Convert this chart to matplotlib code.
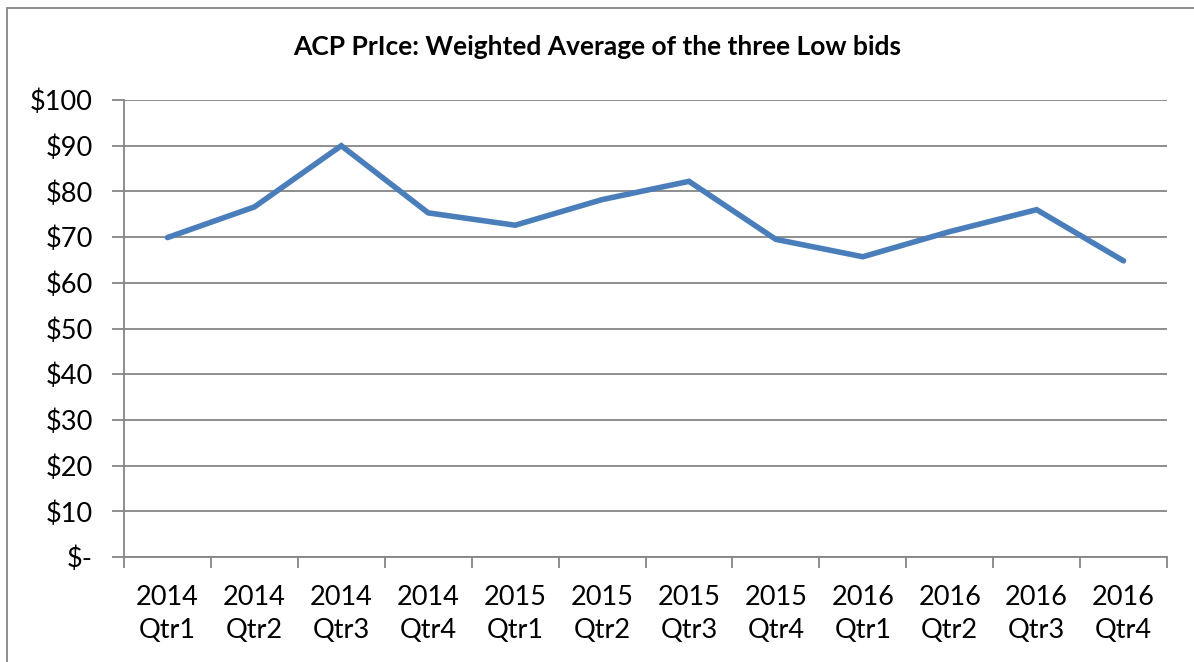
import matplotlib.pyplot as plt
from matplotlib.patches import Rectangle

plt.rcParams['font.family'] = ['Lato', 'DejaVu Sans']

years = ["2014", "2014", "2014", "2014", "2015", "2015", "2015", "2015",
         "2016", "2016", "2016", "2016"]
quarters = ["Qtr1", "Qtr2", "Qtr3", "Qtr4"] * 3
prices = [69.9, 76.6, 90.0, 75.3, 72.6, 78.2, 82.2, 69.5, 65.7, 71.2, 76.0, 64.8]
yticks = [0, 10, 20, 30, 40, 50, 60, 70, 80, 90, 100]

labels = [y + "\n" + q for y, q in zip(years, quarters)]
x = list(range(len(prices)))

fig = plt.figure(figsize=(11.94, 6.62), dpi=100)
ax = fig.add_axes([124 / 1194, 1 - 557 / 662, 1043 / 1194, 457 / 662])

grid_col = "#868686"
ax.plot(x, prices, color="#4A7EBB", linewidth=4, solid_capstyle="round",
        solid_joinstyle="miter", zorder=3)

ax.set_xlim(-0.5, len(prices) - 0.5)
ax.set_ylim(0, 100)
ax.set_yticks(yticks)
ax.set_yticklabels(["$-" if v == 0 else "$%d" % v for v in yticks])
ax.yaxis.grid(True, color=grid_col, linewidth=1.3)

# category ticks sit between labels, label text centred under each point
ax.set_xticks([i - 0.5 for i in range(len(prices) + 1)])
ax.set_xticklabels([])
ax.set_xticks(x, minor=True)
ax.set_xticklabels(labels, minor=True, linespacing=1.42)
ax.tick_params(axis="x", which="minor", length=0, pad=20, labelsize=19.5)
ax.tick_params(axis="x", which="major", length=8, width=1.3, color=grid_col, direction="out")
ax.tick_params(axis="y", length=9, width=1.3, color=grid_col, labelsize=19.5, pad=13.5)

for s in ["top", "right"]:
    ax.spines[s].set_visible(False)
for s in ["left", "bottom"]:
    ax.spines[s].set_color(grid_col)
    ax.spines[s].set_linewidth(1.3)

fig.text(0.5, 1 - 47 / 662, "ACP PrIce: Weighted Average of the three Low bids",
         ha="center", va="center", fontsize=19, fontweight="bold")

# outer chart border, running off the right and bottom edges
fig.patches.append(Rectangle((7 / 1194, -0.5), 1.5, 1 - 8 / 662 + 0.5, transform=fig.transFigure,
                             fill=False, edgecolor="#868686", linewidth=1.3))

fig.savefig("out.png", dpi=100)
